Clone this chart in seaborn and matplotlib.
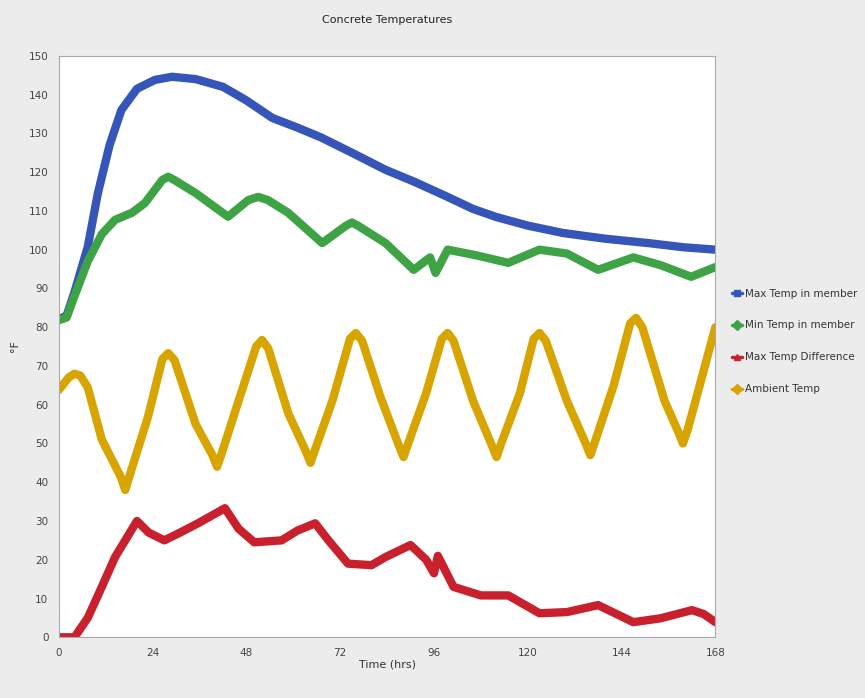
import pandas as pd
import numpy as np
import matplotlib
matplotlib.use("Agg")
import matplotlib.pyplot as plt
import seaborn as sns
from matplotlib.lines import Line2D
from matplotlib.ticker import MultipleLocator

# DADOS
max_hr = [0, 2, 4, 7.4, 10, 13, 16, 20, 24.6, 29, 35, 42, 48, 54.6, 61, 67, 75, 83.6, 91, 99.5, 106, 112, 120, 129, 140, 150.8, 160, 168]
max_temp = [82, 83, 89, 100.7, 114.6, 127, 136, 141.5, 143.8, 144.6, 144, 142, 138.5, 134, 131.5, 129, 125, 120.6, 117.5, 113.6, 110.5, 108.4, 106.2, 104.3, 102.8, 101.7, 100.6, 100]

min_hr = [0, 2, 4, 7.4, 11, 14.4, 18.7, 22, 26.5, 28, 29.5, 35, 43.3, 48.5, 51, 53.5, 58.7, 67.4, 73.5, 75, 76.5, 83.6, 90.8, 95, 96.4, 99.5, 107, 115, 123, 130, 138, 147, 154, 161.8, 168]
min_temp = [81.8, 82.5, 88, 97, 104, 107.7, 109.5, 112, 118, 118.8, 118, 114.6, 108.5, 112.8, 113.6, 112.8, 109.5, 101.7, 106.2, 107, 106.2, 101.7, 94.8, 98, 94, 100, 98.5, 96.6, 100, 99, 94.8, 98, 96, 93, 95.5]

amb_hr = [0, 2.5, 4, 5.5, 7.4, 11, 15.8, 17, 18.2, 22.8, 26.5, 28, 29.6, 35, 39.3, 40.5, 41.7, 46, 50.5, 52, 53.6, 58.7, 63.2, 64.4, 65.6, 70, 74.5, 76, 77.6,
          82.3, 87, 88.2, 89.4, 94, 98, 99.5, 101, 106, 110.8, 112, 113.2, 118, 121.5, 123, 124.6, 130, 134.8, 136, 137.2, 142, 146.2, 147.7, 149.3,
          155, 158.5, 159.7, 160.9, 164, 168]
amb_temp = [63.8, 67, 68, 67.5, 64.5, 51, 41.5, 38, 42, 56.8, 71.8, 73.3, 71.5, 55, 47, 44, 47.5, 61, 75, 76.7, 74.5, 57.8, 48, 45, 48.5, 61, 77, 78.5, 76.5,
            62, 49.5, 46.5, 50, 63, 77, 78.5, 76.5, 61, 49.5, 46.5, 50, 63, 77, 78.5, 76.5, 61, 50, 47, 50.5, 65, 81, 82.4, 80,
            61, 53, 50, 53.5, 65, 80]

dif_hr = [0, 1.5, 4, 7.4, 11, 14.4, 20, 23, 27, 31, 35.6, 42.5, 46, 50, 57, 61, 65.6, 69, 74, 80, 83.6, 90, 94, 96, 97, 101, 108, 115, 123, 130, 138, 147, 154, 162, 165, 168]
dif_temp = [0, 0, 0, 5, 13, 20.7, 30, 27, 25, 27, 29.4, 33.3, 28, 24.5, 25, 27.5, 29.4, 25, 19, 18.6, 20.7, 23.8, 20, 16.5, 21, 13, 10.8, 10.8, 6.2, 6.5, 8.3, 3.9, 4.9, 7, 6, 3.9]

series = ["Max Temp in member", "Min Temp in member", "Max Temp Difference", "Ambient Temp"]
cores = ["#3556b8", "#3da345", "#c9202e", "#d8a400"]
marcadores = ["s", "D", "^", "D"]

x_ticks = [0, 24, 48, 72, 96, 120, 144, 168]

df = pd.concat([
    pd.DataFrame({"hrs": max_hr, "temp": max_temp, "serie": series[0]}),
    pd.DataFrame({"hrs": min_hr, "temp": min_temp, "serie": series[1]}),
    pd.DataFrame({"hrs": dif_hr, "temp": dif_temp, "serie": series[2]}),
    pd.DataFrame({"hrs": amb_hr, "temp": amb_temp, "serie": series[3]}),
], ignore_index=True)

sns.set_style("white")
plt.rcParams["font.family"] = ["DejaVu Sans Condensed", "Liberation Sans Narrow", "DejaVu Sans"]

fig = plt.figure(figsize=(8.65, 6.98), dpi=100, facecolor="#ececec")
ax = fig.add_axes([0.068, 0.087, 0.759, 0.833])
ax.set_facecolor("white")

sns.lineplot(data=df, x="hrs", y="temp", hue="serie", hue_order=series,
             palette=dict(zip(series, cores)), linewidth=6, sort=False,
             estimator=None, legend=False, ax=ax, solid_capstyle="round",
             solid_joinstyle="round")

ax.set_xlim(0, 168)
ax.set_ylim(0, 150)
ax.set_xticks(x_ticks)
ax.xaxis.set_minor_locator(MultipleLocator(12))
ax.yaxis.set_major_locator(MultipleLocator(10))
ax.tick_params(axis="both", which="major", labelsize=7.5, colors="#444444", length=4, width=0.6)
ax.tick_params(axis="x", which="major", direction="inout", length=8)
ax.tick_params(axis="x", which="minor", direction="in", length=4, width=0.6, color="#888888")
ax.tick_params(axis="y", which="major", direction="out", length=4)
for lado in ax.spines.values():
    lado.set_color("#aaaaaa")
    lado.set_linewidth(0.8)

ax.set_xlabel("Time (hrs)", fontsize=8, color="#333333", labelpad=1)
ax.set_ylabel("°F", fontsize=8, color="#333333", labelpad=6)
fig.text(0.447, 0.972, "Concrete Temperatures", fontsize=8, color="#222222", ha="center", va="center")

handles = [Line2D([0], [0], color=c, marker=m, markersize=5, linewidth=2.5)
           for c, m in zip(cores, marcadores)]
fig.legend(handles, series, loc="upper left", bbox_to_anchor=(0.835, 0.6),
           frameon=False, fontsize=7.5, labelspacing=2.1, handlelength=1.0,
           handletextpad=0.3, labelcolor="#333333")

plt.savefig("out.png", dpi=100, facecolor=fig.get_facecolor())
